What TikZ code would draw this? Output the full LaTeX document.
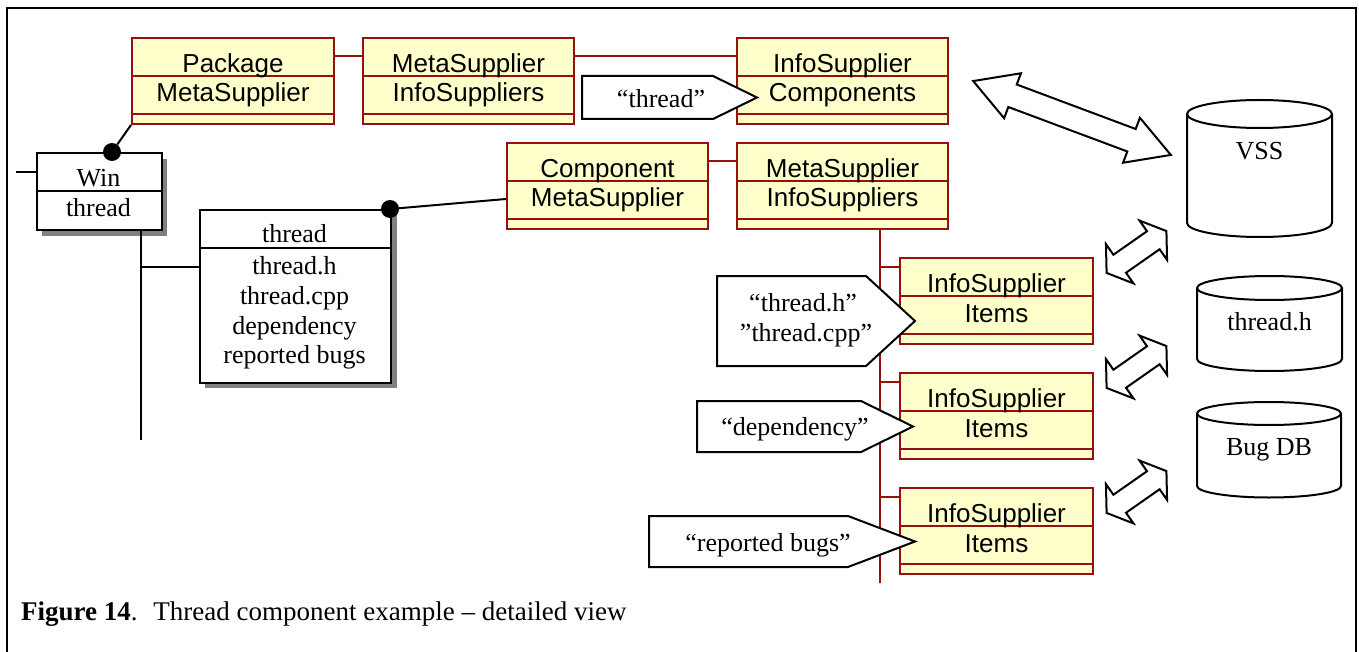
\documentclass[tikz,border=0pt]{standalone}
\usepackage{fontspec}
\setmainfont{Liberation Serif}
\setsansfont{Liberation Sans}
\definecolor{boxred}{RGB}{150,16,16}
\definecolor{boxfill}{RGB}{255,255,204}
\definecolor{shadowgray}{RGB}{128,128,128}

% yellow class box: name, x, y (top left), width, first line, second line
\newcommand\umlbox[6]{%
  \node[ybox, minimum width=#4pt] (#1) at (#2,#3) {};
  \draw[redline] ([yshift=-39pt]#1.north west) -- ([yshift=-39pt]#1.north east);
  \draw[redline] ([yshift=-77pt]#1.north west) -- ([yshift=-77pt]#1.north east);
  \node[sanslbl] (#1-a) at ([yshift=-35.5pt]#1.north) {#5};
  \node[sanslbl] (#1-b) at ([yshift=-65pt]#1.north) {#6};
}
% hollow double arrow: centre x, centre y, angle, length, head length, head half width, shaft half width
\newcommand\hollowarrow[7]{%
  \begin{scope}[shift={(#1,#2)}, rotate=#3]
    \draw[arrowline] ({-#4/2},0) -- ({-#4/2+#5},#6) -- ({-#4/2+#5},#7)
      -- ({#4/2-#5},#7) -- ({#4/2-#5},#6) -- ({#4/2},0) -- ({#4/2-#5},-#6)
      -- ({#4/2-#5},-#7) -- ({-#4/2+#5},-#7) -- ({-#4/2+#5},-#6) -- cycle;
  \end{scope}
}
% database cylinder: name, left x, right x, top centre y, bottom centre y, ellipse half height, label baseline, label
\newcommand\dbcyl[8]{%
  \draw[cylline] (#2,#4) -- (#2,#5) arc[start angle=180, end angle=360, x radius={(#3-#2)/2*1pt}, y radius=#6pt]
    -- (#3,#4) arc[start angle=0, end angle=180, x radius={(#3-#2)/2*1pt}, y radius=#6pt] -- cycle;
  \draw[cylline] (#2,#4) arc[start angle=180, end angle=360, x radius={(#3-#2)/2*1pt}, y radius=#6pt];
  \node[seriflbl] (#1) at ({(#2+#3)/2},#7) {#8};
}

\begin{document}
\begin{tikzpicture}[x=1pt,y=-1pt,
  ybox/.style={draw=boxred, fill=boxfill, line width=2pt, inner sep=0pt,
    minimum height=86pt, anchor=north west},
  redline/.style={draw=boxred, line width=2pt},
  wbox/.style={draw=black, fill=white, line width=2pt, inner sep=0pt, anchor=north west},
  blk/.style={draw=black, line width=2pt},
  sanslbl/.style={font=\sffamily\fontsize{26}{30}\selectfont, anchor=base, inner sep=0pt},
  seriflbl/.style={font=\fontsize{26}{30}\selectfont, anchor=base, inner sep=0pt},
  tagline/.style={draw=black, fill=white, line width=2pt, line join=miter},
  arrowline/.style={draw=black, fill=white, line width=2pt, line join=miter},
  cylline/.style={draw=black, fill=white, line width=2pt},
  dot/.style={circle, fill=black, inner sep=0pt, minimum size=18pt},
]
\useasboundingbox (0,0) rectangle (1359,652);
\clip (0,0) rectangle (1359,652);

% outer frame
\draw[line width=2.6pt] (7,8) rectangle (1356,672);

% class boxes
\umlbox{pkg}{131}{37}{202}{Package}{MetaSupplier}
\umlbox{msa}{362}{37}{211}{MetaSupplier}{InfoSuppliers}
\umlbox{isc}{736}{37}{211}{InfoSupplier}{Components}
\umlbox{comp}{506}{142}{201}{Component}{MetaSupplier}
\umlbox{msb}{736}{142}{211}{MetaSupplier}{InfoSuppliers}
\umlbox{ita}{899}{257}{193}{InfoSupplier}{Items}
\umlbox{itb}{899}{372}{193}{InfoSupplier}{Items}
\umlbox{itc}{899}{487}{193}{InfoSupplier}{Items}

% links between class boxes
\draw[redline] ([yshift=-19pt]pkg.north east) -- ([yshift=-19pt]msa.north west);
\draw[redline] ([yshift=-19pt]msa.north east) -- ([yshift=-19pt]isc.north west);
\draw[redline] ([yshift=-19pt]comp.north east) -- ([yshift=-19pt]msb.north west);
\coordinate (trunk) at (880,583);
\draw[redline] (msb.south -| trunk) -- (trunk);
\foreach \b in {ita,itb,itc}{
  \path ([yshift=-10pt]\b.north west) coordinate (\b-j);
  \draw[redline] (\b-j -| trunk) -- (\b-j);
}

% Win box
\fill[shadowgray] (42,159) rectangle (167,236);
\node[wbox, minimum width=125pt, minimum height=77pt] (win) at (36,152) {};
\draw[blk] ([yshift=-39pt]win.north west) -- ([yshift=-39pt]win.north east);
\node[seriflbl] (win-a) at (98.5,186.5) {Win};
\node[seriflbl] (win-b) at (98.5,216.5) {thread};

% thread box
\fill[shadowgray] (205,215) rectangle (397,388);
\node[wbox, minimum width=191pt, minimum height=173pt] (thr) at (199,209) {};
\draw[blk] ([yshift=-39pt]thr.north west) -- ([yshift=-39pt]thr.north east);
\node[seriflbl] (thr-h) at (294.5,243) {thread};
\node[seriflbl] (thr-1) at (294.5,275) {thread.h};
\node[seriflbl] (thr-2) at (294.5,304.5) {thread.cpp};
\node[seriflbl] (thr-3) at (294.5,334) {dependency};
\node[seriflbl] (thr-4) at (294.5,363.5) {reported bugs};

% black links
\node[dot] (dwin) at (112,152) {};
\node[dot] (dthr) at (390,209) {};
\draw[blk] (dwin) -- (pkg.south west);
\draw[blk] (dthr) -- ([yshift=-57pt]comp.north west);
\coordinate (stub) at (16,172);
\draw[blk] (stub) -- (win.north west |- stub);
\coordinate (vend) at (141,440);
\draw[blk] (win.south -| vend) -- (vend);
\coordinate (vj) at (141,267);
\draw[blk] (vj) -- (thr.north west |- vj);

% argument tags
\draw[tagline] (582,76) -- (713,76) -- (757,97.5) -- (713,119) -- (582,119) -- cycle;
\node[seriflbl] (tg1) at (661,108) {“thread”};
\draw[tagline] (717,276) -- (866,276) -- (915,321) -- (866,366) -- (717,366) -- cycle;
\node[seriflbl] (tg2a) at (803,311) {“thread.h”};
\node[seriflbl] (tg2b) at (806,341) {”thread.cpp”};
\draw[tagline] (697,401) -- (861,401) -- (913,426.5) -- (861,452) -- (697,452) -- cycle;
\node[seriflbl] (tg3) at (795,435) {“dependency”};
\draw[tagline] (649,516) -- (848,516) -- (915,541.5) -- (848,567) -- (649,567) -- cycle;
\node[seriflbl] (tg4) at (768,551) {“reported bugs”};

% data stores
\dbcyl{vss}{1187}{1332}{114}{223}{14}{160}{VSS}
\dbcyl{thh}{1197}{1342}{288}{359}{12}{330}{thread.h}
\dbcyl{bug}{1197}{1341}{413.5}{486}{11.5}{455}{Bug DB}

% exchange arrows
\hollowarrow{1072}{118}{-20.5}{211}{42}{24}{12}
\hollowarrow{1136.5}{252}{35}{73}{16}{24}{11}
\hollowarrow{1136.5}{367}{35}{73}{16}{24}{11}
\hollowarrow{1136.5}{492}{35}{73}{16}{24}{11}

% caption
\node[anchor=base west, inner sep=0pt, font=\fontsize{27}{32}\selectfont] (cap) at (21,620)
  {\textbf{Figure 14}.~ Thread component example – detailed view};
\end{tikzpicture}
\end{document}
